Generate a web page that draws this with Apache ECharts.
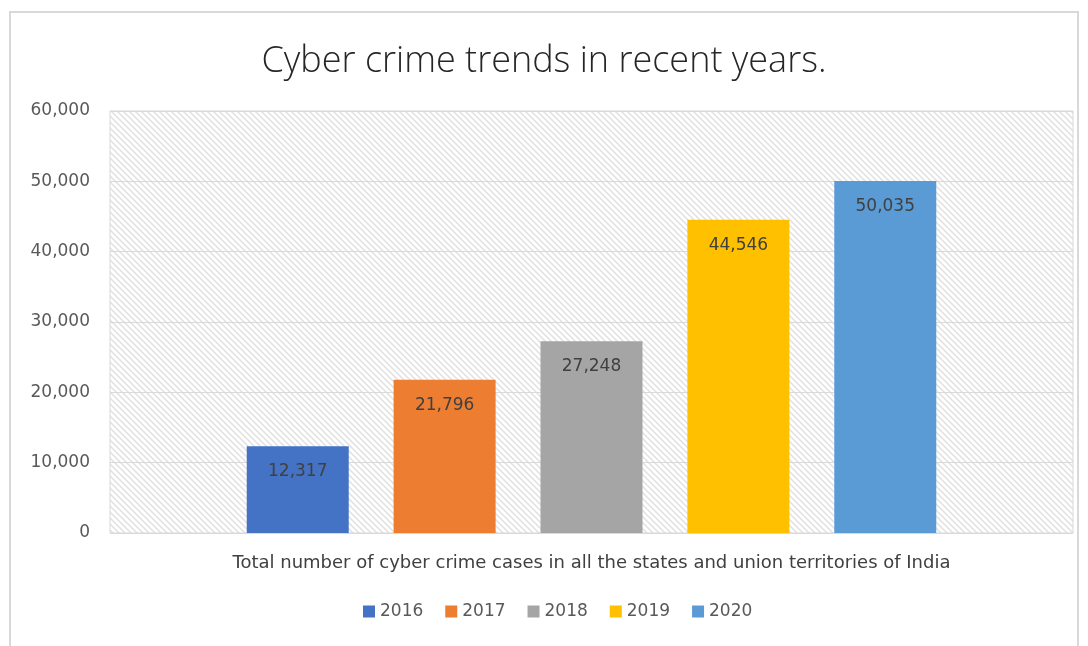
<!DOCTYPE html>
<html>
<head>
<meta charset="utf-8">
<script src="https://cdn.jsdelivr.net/npm/echarts@6/dist/echarts.min.js"></script>
<style>
  html, body { margin: 0; padding: 0; background: #fff; }
  #main { width: 1088px; height: 646px; }
</style>
</head>
<body>
<div id="main"></div>
<script>
// data
let years = ['2016', '2017', '2018', '2019', '2020'];
let cases = [12317, 21796, 27248, 44546, 50035];
let category = ['Total number of cyber crime cases in all the states and union territories of India'];
let palette = ['#4472C4', '#ED7D31', '#A5A5A5', '#FFC000', '#5B9BD5'];

// diagonal hatch for plot background
function hatch() {
    let c = document.createElement('canvas');
    c.width = 6; c.height = 6;
    let ctx = c.getContext('2d');
    ctx.fillStyle = '#ffffff';
    ctx.fillRect(0, 0, 6, 6);
    ctx.strokeStyle = '#e0e0e0';
    ctx.lineWidth = 1.5;
    ctx.beginPath();
    ctx.moveTo(-1, -1); ctx.lineTo(7, 7);
    ctx.moveTo(-4, 2); ctx.lineTo(4, 10);
    ctx.moveTo(2, -4); ctx.lineTo(10, 4);
    ctx.stroke();
    return c;
}

let myChart = echarts.init(document.getElementById('main'));
let fmt = function (v) { return v.toLocaleString('en-US'); };
let font = 'DejaVu Sans';

let series = years.map(function (y, i) {
    return {
        name: y,
        type: 'bar',
        data: [cases[i]],
        barWidth: 102,
        barGap: '44%',
        itemStyle: { color: palette[i] },
        label: {
            show: true,
            position: 'insideTop',
            distance: 17,
            color: '#404040',
            fontSize: 17,
            fontFamily: font,
            formatter: function (p) { return fmt(p.value); }
        }
    };
});

let option = {
    backgroundColor: '#fff',
    animation: false,
    color: palette,
    title: {
        text: 'Cyber crime trends in recent years.',
        left: 'center',
        top: 39,
        textStyle: { fontFamily: 'Open Sans', fontWeight: 300, fontSize: 36, color: '#262626' }
    },
    graphic: [{
        type: 'rect',
        shape: { x: 10, y: 12, width: 1068, height: 640 },
        style: { fill: 'none', stroke: '#d9d9d9', lineWidth: 2 },
        silent: true
    }],
    grid: {
        left: 110, right: 15, top: 111, bottom: 113,
        show: true,
        backgroundColor: { image: hatch(), repeat: 'repeat' },
        borderColor: '#d9d9d9',
        borderWidth: 1
    },
    legend: {
        bottom: 21,
        left: 358,
        itemWidth: 12,
        itemHeight: 12,
        itemGap: 22,
        icon: 'rect',
        textStyle: { fontFamily: font, fontSize: 17, color: '#595959' },
        data: years
    },
    xAxis: {
        type: 'category',
        data: category,
        axisLine: { show: false },
        axisTick: { show: false },
        axisLabel: { margin: 21, fontFamily: font, fontSize: 18, color: '#404040' }
    },
    yAxis: {
        type: 'value',
        min: 0, max: 60000, interval: 10000,
        axisLine: { show: false },
        axisTick: { show: false },
        axisLabel: {
            margin: 20,
            fontFamily: font, fontSize: 17, color: '#595959',
            formatter: fmt
        },
        splitLine: { lineStyle: { color: '#d9d9d9', width: 1 } }
    },
    series: series
};
myChart.setOption(option);
</script>
</body>
</html>
